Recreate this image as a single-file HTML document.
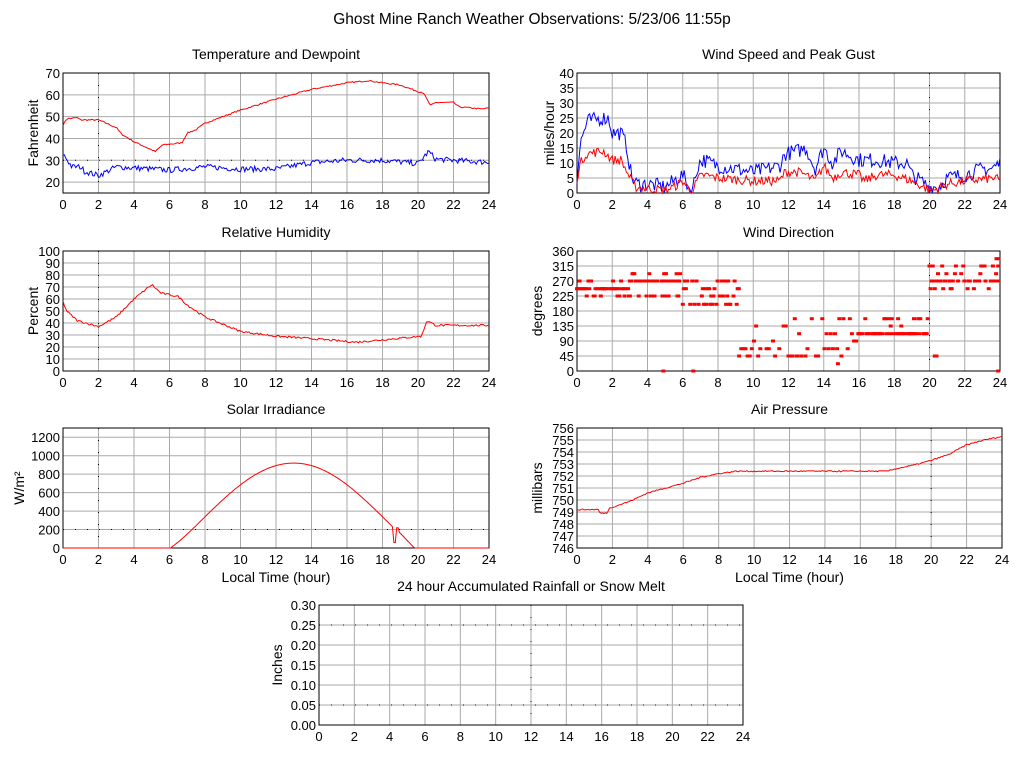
<!DOCTYPE html><html><head><meta charset="utf-8"><style>body{margin:0;background:#fff}svg{display:block}text{font-family:"Liberation Sans",sans-serif;fill:#000}</style></head><body>
<svg id="s" width="1024" height="768" xmlns="http://www.w3.org/2000/svg">
<text x="532" y="24" font-size="15.5" text-anchor="middle">Ghost Mine Ranch Weather Observations: 5/23/06 11:55p</text>
</svg>
<script>
var S=document.getElementById('s'),h='';
var seed=7;function rnd(){seed=(seed*16807)%2147483647;return seed/2147483647;}
function interp(k,t){if(typeof k==='function')return k(t);for(var i=1;i<k.length;i++){if(t<=k[i][0]){var a=k[i-1],b=k[i];return a[1]+(b[1]-a[1])*(t-a[0])/(b[0]-a[0]);}}return k[k.length-1][1];}
function panel(o){
 var x0=o.x0,x1=o.x1,y0=o.y0,y1=o.y1;
 var X=function(t){return x0+(x1-x0)*t/24},Y=function(v){return y1-(y1-y0)*(v-o.min)/(o.max-o.min)};
 h+='<text x="'+((x0+x1)/2)+'" y="'+(y0-14)+'" font-size="14" text-anchor="middle">'+o.title+'</text>';
 for(var t=0;t<=24;t+=2){var x=X(t);h+='<line x1="'+x+'" y1="'+y0+'" x2="'+x+'" y2="'+y1+'" stroke="#aaa"/>';h+='<text x="'+x+'" y="'+(y1+16)+'" font-size="13" text-anchor="middle">'+t+'</text>';}
 o.ticks.forEach(function(v){var y=Y(v);h+='<line x1="'+x0+'" y1="'+y+'" x2="'+x1+'" y2="'+y+'" stroke="#aaa"/>';h+='<text x="'+(x0-3)+'" y="'+(y+5)+'" font-size="13" text-anchor="end">'+(o.fmt?o.fmt(v):v)+'</text>';});
 if(o.dv!=null){var x=X(o.dv);h+='<line x1="'+x+'" y1="'+y0+'" x2="'+x+'" y2="'+y1+'" stroke="#000" stroke-dasharray="1,11"/>';}
 (o.dh||[]).forEach(function(v){var y=Y(v);h+='<line x1="'+x0+'" y1="'+y+'" x2="'+x1+'" y2="'+y+'" stroke="#000" stroke-dasharray="1,11"/>';});
 h+='<rect x="'+x0+'" y="'+y0+'" width="'+(x1-x0)+'" height="'+(y1-y0)+'" fill="none" stroke="#000"/>';
 (o.series||[]).forEach(function(s){var p=[],n=300;for(var i=0;i<=n;i++){var t=24*i/n;var v=interp(s.k,t)+(s.noise?(rnd()-0.5)*2*s.noise:0);if(v<o.min)v=o.min;p.push(X(t).toFixed(1)+','+Y(v).toFixed(1));}h+='<polyline points="'+p.join(' ')+'" fill="none" stroke="'+s.c+'" stroke-width="1"/>';});
 if(o.dots)o.dots.forEach(function(d){h+='<rect x="'+(X(d[0])-2).toFixed(1)+'" y="'+(Y(d[1])-1.5).toFixed(1)+'" width="4" height="3" fill="red"/>';});
 var ly=(y0+y1)/2;h+='<text transform="translate('+o.lx+','+ly+') rotate(-90)" font-size="14" text-anchor="middle">'+o.ylab+'</text>';
 if(o.xlab)h+='<text x="'+((x0+x1)/2)+'" y="'+(y1+34)+'" font-size="14" text-anchor="middle">Local Time (hour)</text>';
}
function rng(a,b,s){var r=[];for(var v=a;v<=b+1e-9;v+=s)r.push(+v.toFixed(2));return r;}
panel({x0:63,x1:489,y0:73,y1:193,min:15,max:70,ticks:[20,30,40,50,60,70],title:'Temperature and Dewpoint',ylab:'Fahrenheit',lx:38,dv:2,dh:[30],
series:[{c:'red',noise:0.3,k:[[0,46],[0.2,49],[0.8,49.5],[1,48.5],[2,48.5],[3,45],[3.3,42],[4,38.5],[5.2,34],[5.6,37],[6.7,38],[7,42.5],[7.5,44],[8,47],[10,53],[12,58],[14,62.5],[16,65.5],[17.2,66.5],[18,65.5],[19,64.5],[20,61.5],[20.3,61],[20.7,55],[21,56.5],[22,56.5],[22.3,54.5],[23.6,53.5],[24,54]]},
{c:'blue',noise:1.3,k:[[0,33],[0.5,27],[1,27],[1.2,25],[2,23],[3,27],[6,25.5],[8,27],[10,26],[12,26],[14,29],[16,30],[18,30],[20,28.5],[20.6,34],[21,30.5],[24,29]]}]});
panel({x0:577,x1:1000,y0:73,y1:193,min:0,max:40,ticks:rng(0,40,5),title:'Wind Speed and Peak Gust',ylab:'miles/hour',lx:554,dv:20,
series:[{c:'blue',noise:2.5,k:[[0,5],[0.2,17],[0.6,24],[1.5,25],[1.8,25],[2,20],[2.5,20],[2.8,16],[3.1,5],[3.4,3],[4,3],[5,2],[5.5,4],[6,6],[6.5,0],[6.9,10],[7.2,11],[8,9],[10,7],[11.5,9],[11.8,13],[12.5,14],[13,15],[13.5,8],[14,15],[14.5,10],[15,14],[16,11],[17,11],[18,10],[18.7,10],[19,6],[20,2],[20.5,2],[21,5],[22,6],[23,8],[23.5,8],[24,10]]},
{c:'red',noise:1.6,k:[[0,5],[0.2,10],[0.5,13],[1.5,14],[2,11],[2.5,11],[3,5],[3.3,2],[4,1.5],[5,1],[5.5,2],[6,4],[6.5,0],[6.9,5],[7.2,6],[8,5],[10,4],[11.5,4],[11.8,7],[12.5,7],[13,6],[13.5,4],[14,9],[14.5,5],[15,7],[16,6],[16.3,4],[17,6],[18,6],[19,4],[20,1],[20.3,1],[21,3],[22,4],[23.7,5],[24,4]]}]});
panel({x0:63,x1:489,y0:251,y1:371,min:0,max:100,ticks:rng(0,100,10),title:'Relative Humidity',ylab:'Percent',lx:38,dv:2,
series:[{c:'red',noise:0.8,k:[[0,58],[0.2,50],[0.8,42],[2,37],[3,45],[4,60],[5,72],[5.5,65],[6.5,62],[7,55],[8,45],[10,33],[12,29],[14,27],[16.5,24],[18,26],[20.2,29],[20.5,42],[21,38],[24,38]]}]});
var dots=[];function seg(a,b,vals,step){for(var t=a;t<b;t+=step){if(rnd()<0.75)dots.push([t,vals[Math.floor(rnd()*vals.length)]]);}}
seg(0,3,[247,247,247,247,270,225],0.05);seg(3,6,[270,270,270,270,292,225],0.05);seg(6,9.2,[200,225,247,200,270],0.06);seg(9.2,12,[67,67,67,90,45,135],0.12);seg(12,16,[112,112,135,90,45,157,67],0.12);seg(16,20,[112,112,112,112,135,157],0.06);seg(20,24,[270,270,292,247,315],0.06);
dots.push([23.8,337],[23.9,337],[23.9,0],[4.9,0],[6.6,0],[14.8,22],[20.3,45],[20.4,45]);
panel({x0:577,x1:1000,y0:251,y1:371,min:0,max:360,ticks:rng(0,360,45),title:'Wind Direction',ylab:'degrees',lx:542,dv:20,dots:dots});
function solar(t){if(t<6.1||t>19.9)return 0;var c=Math.cos((t-13)/7*Math.PI/2);var v=c>0?920*Math.pow(c,1.2):0;if(t>18.6&&t<18.75)v=60;else if(t>=18.75&&t<18.95)v=220;else if(t>=18.95)v=Math.max(0,170-(t-18.95)*200);return v;}
panel({x0:63,x1:489,y0:428,y1:548,min:0,max:1300,ticks:rng(0,1200,200),title:'Solar Irradiance',ylab:'W/m²',lx:24,dv:2,dh:[200],xlab:1,
series:[{c:'red',noise:0,k:solar}]});
panel({x0:577,x1:1002,y0:428,y1:548,min:746,max:756,ticks:rng(746,756,1),title:'Air Pressure',ylab:'millibars',lx:542,dv:20,xlab:1,
series:[{c:'red',noise:0.05,k:[[0,749.2],[1.2,749.2],[1.3,748.9],[1.7,748.9],[1.8,749.3],[3,749.9],[4,750.6],[5,751],[6,751.4],[7,751.9],[8,752.2],[9,752.4],[12,752.4],[14,752.4],[17.5,752.4],[18,752.6],[19,752.9],[20,753.3],[21,753.8],[22,754.6],[23,755],[24,755.3]]}]});
panel({x0:319,x1:743,y0:605,y1:725,min:0,max:0.3,ticks:rng(0,0.3,0.05),fmt:function(v){return v.toFixed(2)},title:'24 hour Accumulated Rainfall or Snow Melt',ylab:'Inches',lx:282,dv:12,dh:[0.05,0.25]});
S.innerHTML+=h;
</script></body></html>
